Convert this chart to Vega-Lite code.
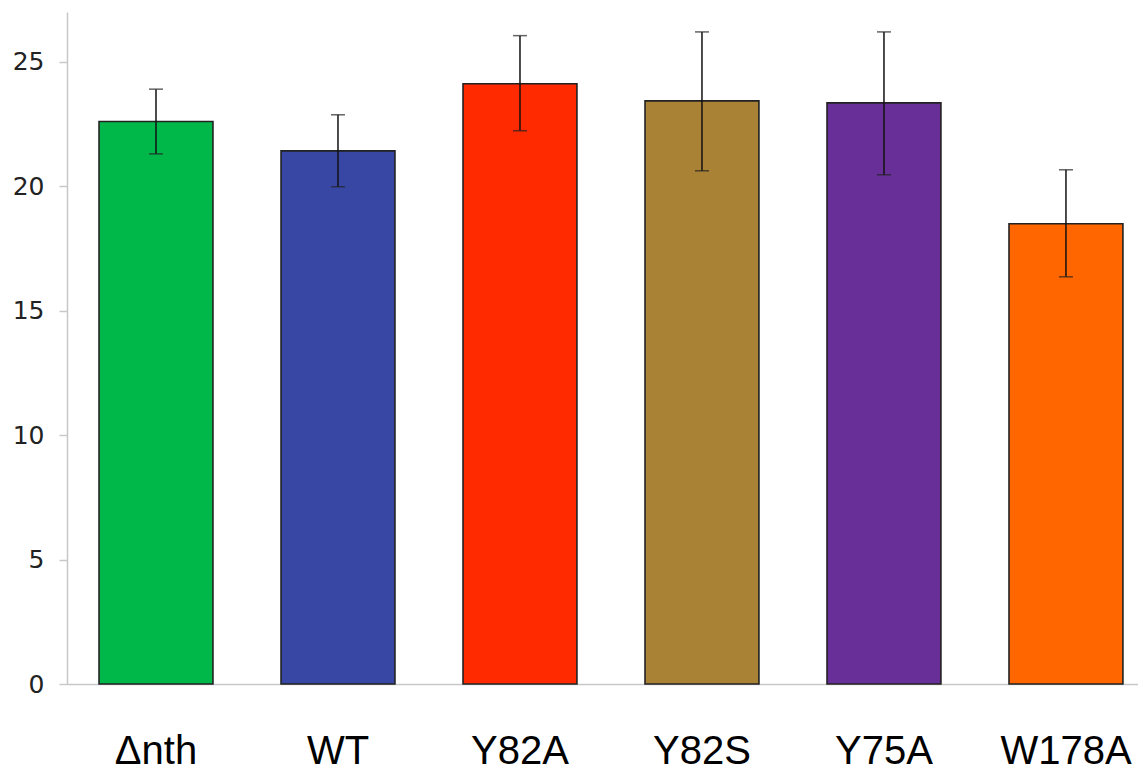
{
  "$schema": "https://vega.github.io/schema/vega-lite/v6.json",
  "autosize": "none",
  "padding": {"left": 67, "top": 12, "right": 0, "bottom": 87},
  "width": 1071,
  "height": 672,
  "background": "white",
  "config": {"view": {"stroke": null}},
  "data": {"values": [
    {"name": "Δnth", "value": 22.6, "lo": 21.3, "hi": 23.9, "color": "#00b84a"},
    {"name": "WT", "value": 21.42, "lo": 19.98, "hi": 22.87, "color": "#3747a3"},
    {"name": "Y82A", "value": 24.12, "lo": 22.23, "hi": 26.05, "color": "#ff2a00"},
    {"name": "Y82S", "value": 23.43, "lo": 20.62, "hi": 26.2, "color": "#aa8236"},
    {"name": "Y75A", "value": 23.35, "lo": 20.46, "hi": 26.2, "color": "#682f98"},
    {"name": "W178A", "value": 18.49, "lo": 16.36, "hi": 20.66, "color": "#ff6600"}
  ]},
  "encoding": {
    "x": {"field": "name", "type": "nominal", "sort": null,
      "scale": {"paddingInner": 0.374, "paddingOuter": 0.1294, "align": 0.68},
      "axis": {"title": null, "labelAngle": 0, "ticks": false, "tickSize": 0, "domainColor": "#c8c8c8", "domainWidth": 1.5,
        "labelFont": "Liberation Sans", "labelFontSize": 40, "labelColor": "#000", "labelBaseline": "alphabetic", "labelPadding": 79}}
  },
  "layer": [
    {"mark": {"type": "bar", "stroke": "#222", "strokeWidth": 1.6},
     "encoding": {
       "y": {"field": "value", "type": "quantitative", "scale": {"domain": [0, 27], "nice": false},
         "axis": {"title": null, "values": [0, 5, 10, 15, 20, 25], "grid": false, "domainColor": "#c8c8c8", "domainWidth": 1.5,
           "tickColor": "#c8c8c8", "tickWidth": 1.5, "tickSize": 8, "labelPadding": 15,
           "labelFont": "DejaVu Sans", "labelFontSize": 25, "labelColor": "#222"}},
       "fill": {"field": "color", "type": "nominal", "scale": null}
     }},
    {"mark": {"type": "rule", "color": "#111", "strokeWidth": 1.5},
     "encoding": {"y": {"field": "lo", "type": "quantitative"}, "y2": {"field": "hi"}}},
    {"mark": {"type": "tick", "color": "#222", "size": 14, "thickness": 1.5},
     "encoding": {"y": {"field": "lo", "type": "quantitative"}}},
    {"mark": {"type": "tick", "color": "#222", "size": 14, "thickness": 1.5},
     "encoding": {"y": {"field": "hi", "type": "quantitative"}}}
  ]
}
